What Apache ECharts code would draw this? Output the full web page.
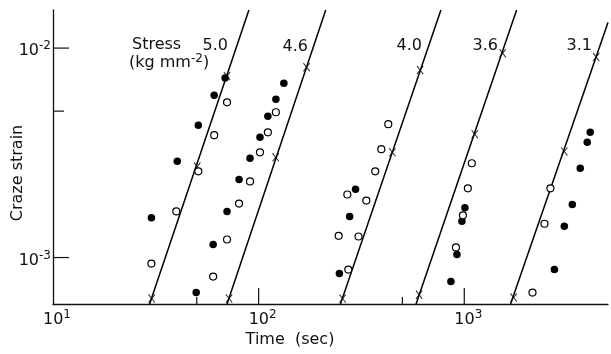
<!DOCTYPE html>
<html>
<head>
<meta charset="utf-8">
<script src="https://cdn.jsdelivr.net/npm/echarts@6/dist/echarts.min.js"></script>
<style>
html,body{margin:0;padding:0;background:#fff;}
#chart{width:611px;height:354px;}
</style>
</head>
<body>
<div id="chart"></div>
<script>
// ---- axis settings / tick values ----
var X_MIN = 10, X_MAX = 5000;
var Y_MIN = 0.0006, Y_MAX = 0.0152;
var xMajorTicks = [100, 1000];
var xMinorTicks = [50, 500];
var yMajorTicks = [0.001, 0.01];
var yMinorTicks = [0.005];

// ---- stress 5.0 ----
var line50 = [[29.5, 0.0006], [89.7, 0.0152]];
var cross50 = [[30.2, 6.37e-4], [50.3, 2.72e-3], [70.2, 7.35e-3]];
var filled50 = [[30.1, 1.55e-3], [40.2, 2.88e-3], [50.9, 4.28e-3], [60.8, 5.96e-3], [68.7, 7.19e-3]];
var open50 = [[30.1, 9.36e-4], [39.8, 1.66e-3], [50.9, 2.58e-3], [60.8, 3.84e-3], [70.2, 5.51e-3]];

// ---- stress 4.6 ----
var line46 = [[70.2, 0.0006], [212, 0.0152]];
var cross46 = [[71.8, 6.37e-4], [121, 3.01e-3], [171, 8.11e-3]];
var filled46 = [[49.7, 6.8e-4], [60.1, 1.154e-3], [70.2, 1.66e-3], [80.3, 2.36e-3], [90.8, 2.98e-3], [101.5, 3.75e-3], [110.9, 4.73e-3], [121.3, 5.70e-3], [132.6, 6.80e-3]];
var open46 = [[60.1, 8.11e-4], [70.2, 1.219e-3], [80.3, 1.81e-3], [90.8, 2.31e-3], [101.5, 3.18e-3], [110.9, 3.96e-3], [121.3, 4.94e-3]];

// ---- stress 4.0 ----
var line40 = [[250, 0.0006], [770, 0.0152]];
var cross40 = [[256, 6.37e-4], [447, 3.18e-3], [610, 7.85e-3]];
var filled40 = [[296, 2.12e-3], [277, 1.57e-3], [247, 8.38e-4]];
var open40 = [[427, 4.33e-3], [395, 3.29e-3], [369, 2.58e-3], [334, 1.87e-3], [306, 1.26e-3], [273, 8.76e-4], [270, 2.0e-3], [245, 1.27e-3]];

// ---- stress 3.6 ----
var line36 = [[583, 0.0006], [1797, 0.0152]];
var cross36 = [[603, 6.65e-4], [1125, 3.88e-3], [1537, 9.46e-3]];
var filled36 = [[1007, 1.73e-3], [974, 1.49e-3], [921, 1.034e-3], [861, 7.68e-4]];
var open36 = [[1088, 2.82e-3], [1041, 2.14e-3], [985, 1.59e-3], [911, 1.117e-3]];

// ---- stress 3.1 ----
var line31 = [[1680, 0.0006], [5000, 0.01324]];
var cross31 = [[1738, 6.44e-4], [3066, 3.21e-3], [4380, 9.06e-3]];
var filled31 = [[4098, 3.96e-3], [3963, 3.55e-3], [3665, 2.67e-3], [3353, 1.79e-3], [3066, 1.41e-3], [2743, 8.76e-4]];
var open31 = [[2624, 2.14e-3], [2455, 1.45e-3], [2147, 6.8e-4]];

var stressLabels = ['5.0', '4.6', '4.0', '3.6', '3.1'];

var groups = [
  {line: line50, cross: cross50, filled: filled50, open: open50},
  {line: line46, cross: cross46, filled: filled46, open: open46},
  {line: line40, cross: cross40, filled: filled40, open: open40},
  {line: line36, cross: cross36, filled: filled36, open: open36},
  {line: line31, cross: cross31, filled: filled31, open: open31}
];

var FONT = 'DejaVu Sans';
var INK = '#111';
var CROSS = 'path://M1,0 L5,4.1 L9,0 L10,1 L5.9,5 L10,9 L9,10 L5,5.9 L1,10 L0,9 L4.1,5 L0,1 Z';

var series = [];
groups.forEach(function (g, i) {
  series.push({
    type: 'line', data: g.line, symbol: 'none', silent: true, z: 2,
    lineStyle: {color: '#000', width: 1.5}
  });
  series.push({
    type: 'scatter', data: g.cross, symbol: CROSS, symbolSize: [7, 9], z: 4,
    itemStyle: {color: '#000'}
  });
  series.push({
    type: 'scatter', data: g.filled, symbol: 'circle', symbolSize: 7.5, z: 5,
    itemStyle: {color: '#000', opacity: 1}
  });
  series.push({
    type: 'scatter', data: g.open, symbol: 'circle', symbolSize: 7, z: 5,
    itemStyle: {color: '#fff', borderColor: '#000', borderWidth: 1.2, opacity: 1}
  });
});

function tickData(list, axis, len) {
  return list.map(function (v) {
    return axis === 'x' ? [v, Y_MIN, len, 0] : [X_MIN, v, len, 1];
  });
}
var tickItems = []
  .concat(tickData(xMajorTicks, 'x', 16))
  .concat(tickData(xMinorTicks, 'x', 7))
  .concat(tickData(yMajorTicks, 'y', 16))
  .concat(tickData(yMinorTicks, 'y', 11));

series.push({
  type: 'custom', silent: true, z: 3,
  encode: {x: 0, y: 1},
  data: tickItems,
  renderItem: function (params, api) {
    var p = api.coord([api.value(0), api.value(1)]);
    var len = api.value(2);
    var isY = api.value(3) === 1;
    return {
      type: 'line',
      shape: isY ? {x1: p[0], y1: p[1], x2: p[0] + len, y2: p[1]}
                 : {x1: p[0], y1: p[1], x2: p[0], y2: p[1] - len},
      style: {stroke: INK, lineWidth: 1.2}
    };
  }
});

function powLabel(v) {
  var e = Math.log10(v);
  var r = Math.round(e);
  if (Math.abs(e - r) > 1e-6) return '';
  return '{b|10}{s|' + r + '}';
}

var chart = echarts.init(document.getElementById('chart'), null, {renderer: 'canvas'});
chart.setOption({
  backgroundColor: '#fff',
  animation: false,
  grid: {left: 53, right: 0, top: 10, bottom: 50, containLabel: false},
  xAxis: {
    type: 'log', logBase: 10, min: X_MIN, max: X_MAX,
    axisLine: {show: true, onZero: false, lineStyle: {color: INK, width: 1.3}},
    axisTick: {show: false},
    splitLine: {show: false},
    axisLabel: {
      formatter: powLabel, margin: 5, color: INK, fontFamily: FONT,
      rich: {
        b: {fontSize: 16, fontFamily: FONT, color: INK, padding: [0, 0, 0, 8]},
        s: {fontSize: 12, fontFamily: FONT, color: INK, padding: [0, 0, 9, 0]}
      }
    }
  },
  yAxis: {
    type: 'log', logBase: 10, min: Y_MIN, max: Y_MAX,
    axisLine: {show: true, onZero: false, lineStyle: {color: INK, width: 1.3}},
    axisTick: {show: false},
    splitLine: {show: false},
    axisLabel: {
      formatter: powLabel, margin: 2, color: INK, fontFamily: FONT,
      rich: {
        b: {fontSize: 16, fontFamily: FONT, color: INK, padding: [6, 0, 0, 0]},
        s: {fontSize: 12, fontFamily: FONT, color: INK, padding: [0, 0, 4, 0]}
      }
    }
  },
  graphic: [
    {type: 'text', x: 290, y: 340, style: {text: 'Time  (sec)', fontSize: 16, fontFamily: FONT, fill: INK, align: 'center', verticalAlign: 'middle'}},
    {type: 'text', x: 18, y: 173, rotation: Math.PI / 2, style: {text: 'Craze strain', fontSize: 16, fontFamily: FONT, fill: INK, align: 'center', verticalAlign: 'middle'}},
    {type: 'text', x: 132, y: 45, style: {text: 'Stress', fontSize: 16, fontFamily: FONT, fill: INK, align: 'left', verticalAlign: 'middle'}},
    {type: 'text', x: 129, y: 63, style: {text: '(kg mm{s|-2})', fontSize: 16, fontFamily: FONT, fill: INK, align: 'left', verticalAlign: 'middle',
      rich: {s: {fontSize: 12, fontFamily: FONT, fill: INK, padding: [0, 0, 8, 0]}}}},
    {type: 'text', x: 228, y: 46, style: {text: stressLabels[0], fontSize: 16, fontFamily: FONT, fill: INK, align: 'right', verticalAlign: 'middle'}},
    {type: 'text', x: 308, y: 47, style: {text: stressLabels[1], fontSize: 16, fontFamily: FONT, fill: INK, align: 'right', verticalAlign: 'middle'}},
    {type: 'text', x: 422, y: 46, style: {text: stressLabels[2], fontSize: 16, fontFamily: FONT, fill: INK, align: 'right', verticalAlign: 'middle'}},
    {type: 'text', x: 498, y: 46, style: {text: stressLabels[3], fontSize: 16, fontFamily: FONT, fill: INK, align: 'right', verticalAlign: 'middle'}},
    {type: 'text', x: 592, y: 46, style: {text: stressLabels[4], fontSize: 16, fontFamily: FONT, fill: INK, align: 'right', verticalAlign: 'middle'}}
  ],
  series: series
});
</script>
</body>
</html>
